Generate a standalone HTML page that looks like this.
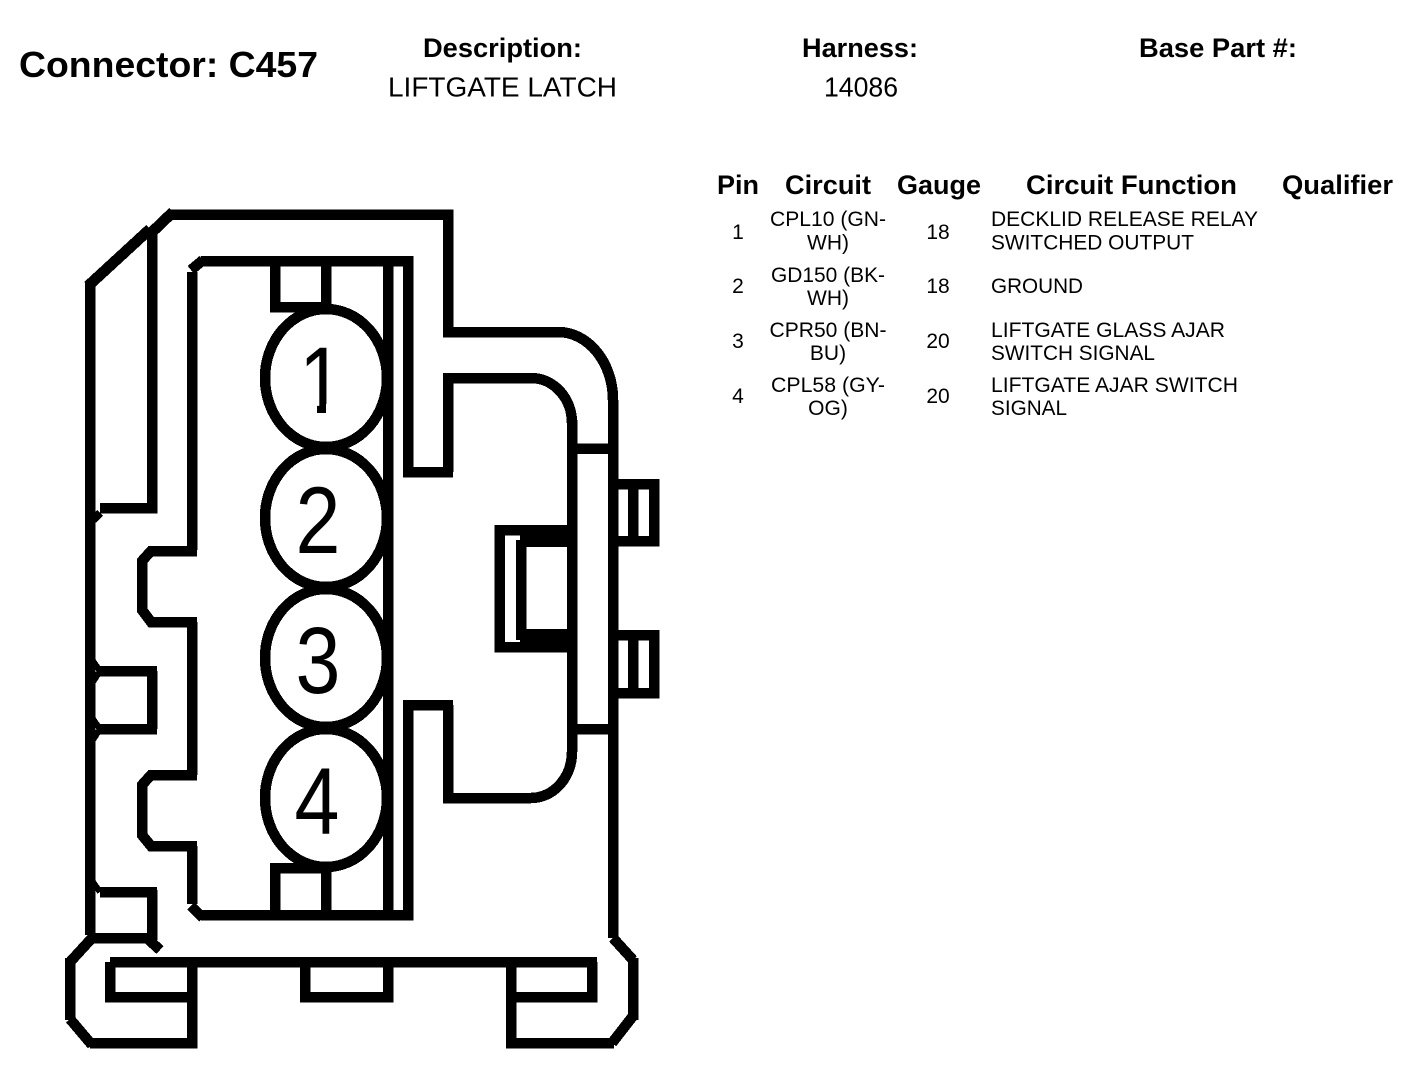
<!DOCTYPE html>
<html><head><meta charset="utf-8"><style>
html,body{margin:0;padding:0;background:#fff}
svg{display:block}
text{font-family:"Liberation Sans",Arial,sans-serif;fill:#000}
.b{font-weight:bold}
.h{font-size:27px;font-weight:bold;text-anchor:middle}
.v{font-size:27.5px;text-anchor:middle}
.t{font-size:27px;font-weight:bold;text-anchor:middle}
.c{font-size:21px;text-anchor:middle}
.l{font-size:21px}
.d{font-size:95px;text-anchor:middle}
</style></head><body>
<svg width="1408" height="1074" viewBox="0 0 1408 1074" xmlns="http://www.w3.org/2000/svg">
<rect width="1408" height="1074" fill="#fff"/>
<text x="19" y="77" class="b" font-size="36" textLength="299" lengthAdjust="spacingAndGlyphs">Connector: C457</text>
<text x="502.500" y="57" class="h" textLength="159" lengthAdjust="spacingAndGlyphs">Description:</text>
<text x="502.500" y="96.500" class="v" textLength="229" lengthAdjust="spacingAndGlyphs">LIFTGATE LATCH</text>
<text x="860" y="57" class="h" textLength="116" lengthAdjust="spacingAndGlyphs">Harness:</text>
<text x="861" y="96.500" class="v" textLength="74" lengthAdjust="spacingAndGlyphs">14086</text>
<text x="1218" y="57" class="h" textLength="158" lengthAdjust="spacingAndGlyphs">Base Part #:</text>

<text x="738" y="194" class="t" textLength="42" lengthAdjust="spacingAndGlyphs">Pin</text>
<text x="828" y="194" class="t" textLength="86" lengthAdjust="spacingAndGlyphs">Circuit</text>
<text x="939" y="194" class="t" textLength="84" lengthAdjust="spacingAndGlyphs">Gauge</text>
<text x="1131.500" y="194" class="t" textLength="211" lengthAdjust="spacingAndGlyphs">Circuit Function</text>
<text x="1337.500" y="194" class="t" textLength="111" lengthAdjust="spacingAndGlyphs">Qualifier</text>

<text x="738" y="239" class="c">1</text>
<text x="828" y="226" class="c" textLength="116" lengthAdjust="spacingAndGlyphs">CPL10 (GN-</text><text x="828" y="249.500" class="c">WH)</text>
<text x="938" y="239" class="c">18</text>
<text x="991" y="226" class="l" textLength="267" lengthAdjust="spacingAndGlyphs">DECKLID RELEASE RELAY</text><text x="991" y="249.500" class="l" textLength="203" lengthAdjust="spacingAndGlyphs">SWITCHED OUTPUT</text>

<text x="738" y="293" class="c">2</text>
<text x="828" y="282" class="c" textLength="114" lengthAdjust="spacingAndGlyphs">GD150 (BK-</text><text x="828" y="305" class="c">WH)</text>
<text x="938" y="293" class="c">18</text>
<text x="991" y="293" class="l" textLength="92" lengthAdjust="spacingAndGlyphs">GROUND</text>

<text x="738" y="348" class="c">3</text>
<text x="828" y="337" class="c" textLength="117" lengthAdjust="spacingAndGlyphs">CPR50 (BN-</text><text x="828" y="360" class="c">BU)</text>
<text x="938" y="348" class="c">20</text>
<text x="991" y="337" class="l" textLength="234" lengthAdjust="spacingAndGlyphs">LIFTGATE GLASS AJAR</text><text x="991" y="360" class="l" textLength="164" lengthAdjust="spacingAndGlyphs">SWITCH SIGNAL</text>

<text x="738" y="403" class="c">4</text>
<text x="828" y="392" class="c" textLength="114" lengthAdjust="spacingAndGlyphs">CPL58 (GY-</text><text x="828" y="415" class="c">OG)</text>
<text x="938" y="403" class="c">20</text>
<text x="991" y="392" class="l" textLength="247" lengthAdjust="spacingAndGlyphs">LIFTGATE AJAR SWITCH</text><text x="991" y="415" class="l" textLength="76" lengthAdjust="spacingAndGlyphs">SIGNAL</text>

<g fill="none" stroke="#000" stroke-width="10.5" stroke-linecap="butt" stroke-linejoin="miter" shape-rendering="crispEdges">
<!-- outer shell -->
<path d="M90 935V283"/>
<path d="M88 286L150 229" stroke-width="11"/>
<path d="M150 234L173 212" stroke-width="11"/>
<path d="M152 234V508H100"/>
<path d="M171 214.500H448V332H558A55 68 0 0 1 613 400V938"/>
<path d="M613 938L633 960"/>
<path d="M633 958V1020"/>
<path d="M633 1016L612 1043"/>
<path d="M614 1043H511V962"/>
<path d="M592 962V997H511"/>
<path d="M110 962H597"/>
<path d="M110 962V997H192"/>
<path d="M305 962V997H388V962"/>
<path d="M192 962V1043H90"/>
<path d="M92 1045L70 1019"/>
<path d="M70 1020V958"/>
<path d="M70 962L92 938"/>
<path d="M88 938H152"/>
<path d="M152 890V940"/>
<path d="M149 940L160 950"/>
<path d="M100 892H157"/>
<path d="M100 671H157M152 671V729M100 729H157"/>
<path d="M93 661L100 671L93 682" stroke-width="6"/>
<path d="M93 719L100 729L93 740" stroke-width="6"/>
<path d="M93 520L100 513" stroke-width="8"/>
<path d="M93 882L100 892" stroke-width="6"/>
<!-- inner housing -->
<path d="M192 550V272"/>
<path d="M191 270L203 260"/>
<path d="M201 261H408V477"/>
<path d="M403 472H453"/>
<path d="M448 472V378H531A41 45 0 0 1 572 423"/>
<path d="M572 420V752"/>
<path d="M572 752A41 46 0 0 1 531 798H448V705"/>
<path d="M453 705H403"/>
<path d="M408 705V915H201"/>
<path d="M192 846V904"/>
<path d="M191 906L203 918"/>
<path d="M197 551H151L142 561V610L151 622H197"/>
<path d="M192 622V775"/>
<path d="M197 775H151L142 785V835L151 846H197"/>
<path d="M388 261V915"/>
<path d="M275 261V307H326M326 261V307"/>
<path d="M275 915V868H326M326 915V868"/>
<!-- pins -->
<ellipse cx="326" cy="378" rx="61" ry="69" fill="#fff"/>
<ellipse cx="326" cy="518" rx="61" ry="69" fill="#fff"/>
<ellipse cx="326" cy="658" rx="61" ry="69" fill="#fff"/>
<ellipse cx="326" cy="798" rx="61" ry="69" fill="#fff"/>
<path d="M388 261V915"/>
<!-- right side -->
<path d="M572 448.500H613M572 729H613"/>
<path d="M613 484H654V541H613M633 484V541"/>
<path d="M613 635H654V693H613M633 635V693"/>
<path d="M572 530H499.500V647H572"/>
<path d="M521 540V640"/>
</g>
<rect x="520" y="530" width="52" height="17" fill="#000"/>
<rect x="520" y="629" width="52" height="20" fill="#000"/>

<text transform="translate(321.500,413) scale(.85,1)" class="d">1</text>
<rect x="290" y="404" width="27" height="11" fill="#fff"/>
<rect x="326" y="404" width="22" height="11" fill="#fff"/>
<text transform="translate(318,553) scale(.85,1)" class="d">2</text>
<text transform="translate(318,693) scale(.85,1)" class="d">3</text>
<text transform="translate(317,834) scale(.85,1)" class="d">4</text>
</svg>
</body></html>
